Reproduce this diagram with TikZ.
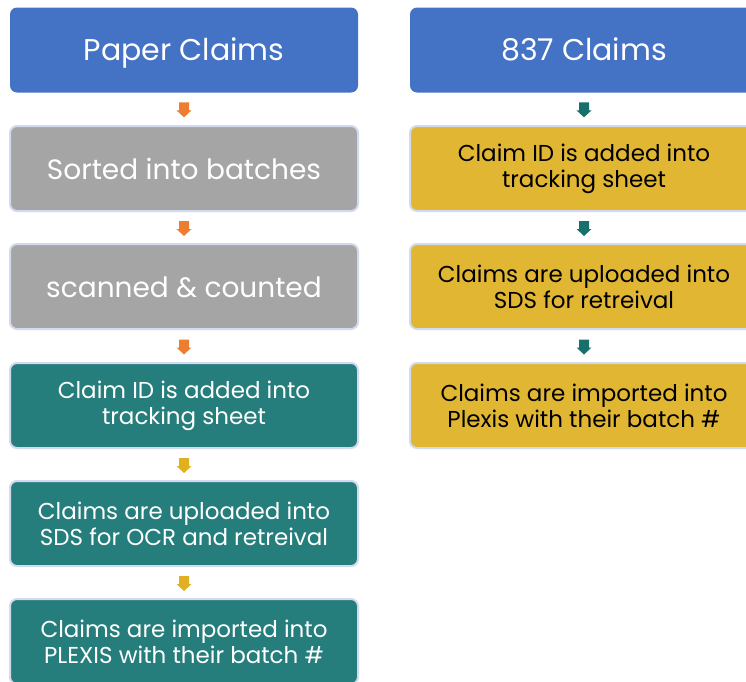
\documentclass[tikz,border=0pt]{standalone}
\usepackage{fontspec}
\setmainfont{Poppins}
\usetikzlibrary{calc}
\definecolor{cblue}{HTML}{4472C4}
\definecolor{cgray}{HTML}{A5A5A5}
\definecolor{cteal}{HTML}{267E7C}
\definecolor{cyellow}{HTML}{E0B632}
\definecolor{cedge}{HTML}{D3D9EE}
\definecolor{corange}{HTML}{ED7D31}
\definecolor{cdteal}{HTML}{17706B}
\definecolor{cayellow}{HTML}{E0B020}
\tikzset{
  box/.style={rounded corners=7pt, minimum width=348pt, minimum height=85pt, align=center, inner sep=0pt, font=\fontsize{23}{26}\selectfont},
  titlebox/.style={box, fill=cblue, text=white, font=\fontsize{30}{36}\selectfont},
  onelinebox/.style={text height=21pt, text depth=0pt},
  graybox/.style={box, fill=cgray, draw=cedge, line width=2pt, text=white, font=\fontsize{28}{34}\selectfont},
  tealbox/.style={box, fill=cteal, draw=cedge, line width=2pt, text=white},
  yelbox/.style={box, fill=cyellow, draw=cedge, line width=2pt, text=black},
  barrow/.pic={\fill (-5,-6.5) -- (5,-6.5) -- (5,1.5) -- (7.5,1.5) -- (0,8.5) -- (-7.5,1.5) -- (-5,1.5) -- cycle;},
}
\begin{document}
\begin{tikzpicture}[x=1pt,y=-1pt]
\useasboundingbox (0,0) rectangle (746,681);
\clip (0,0) rectangle (746,681);
% left column
\node[titlebox, onelinebox] (p0) at (184,50) {Paper Claims};
\node[graybox, onelinebox] (p1) at (184,168.5) {Sorted into batches};
\node[graybox, onelinebox] (p2) at (184,286.5) {scanned \& counted};
\node[tealbox] (p3) at (184,405.5) {Claim ID is added into\\tracking sheet};
\node[tealbox] (p4) at (184,523.5) {Claims are uploaded into\\SDS for OCR and retreival};
\node[tealbox] (p5) at (184,641.5) {Claims are imported into\\PLEXIS with their batch \#};
% right column
\node[titlebox, onelinebox] (e0) at (584,50) {837 Claims};
\node[yelbox] (e1) at (584,168.5) {Claim ID is added into\\tracking sheet};
\node[yelbox] (e2) at (584,286.5) {Claims are uploaded into\\SDS for retreival};
\node[yelbox] (e3) at (584,405.5) {Claims are imported into\\Plexis with their batch \#};
% arrows
\coordinate (a1) at ($(p0.south)!0.5!(p1.north)$);
\coordinate (a2) at ($(p1.south)!0.5!(p2.north)$);
\coordinate (a3) at ($(p2.south)!0.5!(p3.north)$);
\coordinate (a4) at ($(p3.south)!0.5!(p4.north)$);
\coordinate (a5) at ($(p4.south)!0.5!(p5.north)$);
\coordinate (b1) at ($(e0.south)!0.5!(e1.north)$);
\coordinate (b2) at ($(e1.south)!0.5!(e2.north)$);
\coordinate (b3) at ($(e2.south)!0.5!(e3.north)$);
\pic[fill=corange] at (a1) {barrow};
\pic[fill=corange] at (a2) {barrow};
\pic[fill=corange] at (a3) {barrow};
\pic[fill=cayellow] at (a4) {barrow};
\pic[fill=cayellow] at (a5) {barrow};
\pic[fill=cdteal] at (b1) {barrow};
\pic[fill=cdteal] at (b2) {barrow};
\pic[fill=cdteal] at (b3) {barrow};
\end{tikzpicture}
\end{document}
